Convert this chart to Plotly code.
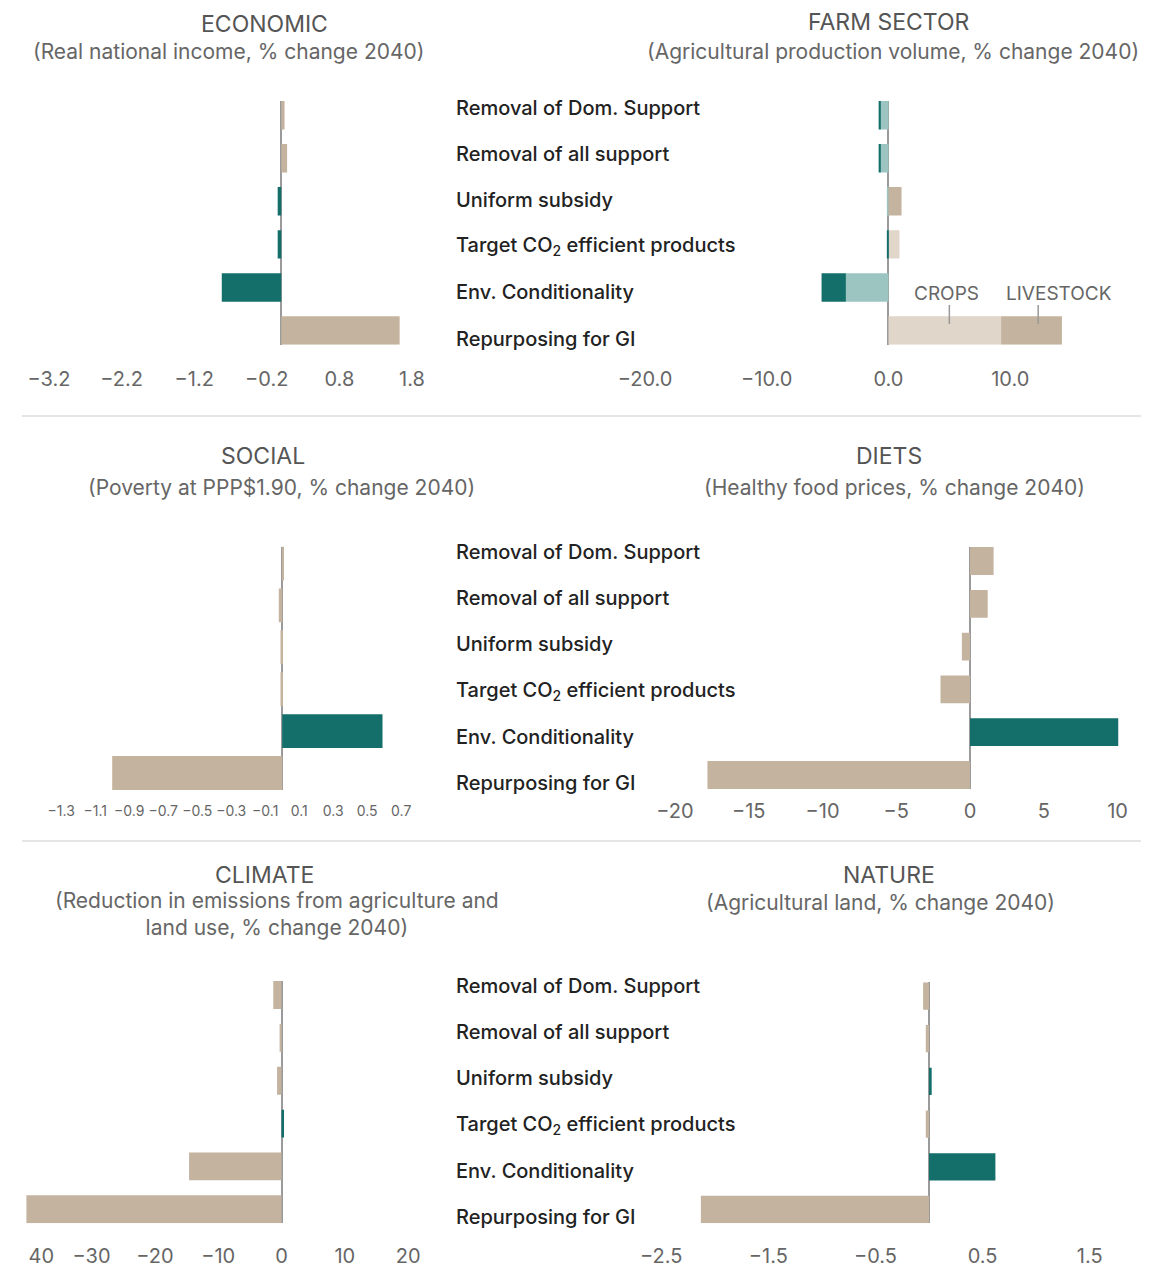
import plotly.graph_objects as go

W, H = 1176, 1271

# ---------------- data ----------------
policies = ["Removal of Dom. Support", "Removal of all support", "Uniform subsidy",
            "Target CO<sub>2</sub> efficient products", "Env. Conditionality", "Repurposing for GI"]

economic = [0.045, 0.08, -0.05, -0.05, -0.82, 1.63]
farm_crops = [-0.66, -0.66, -0.1, 0.9, -3.5, 9.25]
farm_livestock = [-0.15, -0.15, 1.07, -0.1, -2.0, 5.0]
social = [0.01, -0.02, -0.01, -0.01, 0.59, -1.0]
diets = [1.6, 1.2, -0.55, -2.0, 10.05, -17.8]
climate = [-1.3, -0.3, -0.7, 0.4, -14.6, -40.3]
nature = [-0.055, -0.03, 0.025, -0.03, 0.62, -2.13]

economic_ticks = [-3.2, -2.2, -1.2, -0.2, 0.8, 1.8]
farm_ticks = [-20, -10, 0, 10]
social_ticks = [-1.3, -1.1, -0.9, -0.7, -0.5, -0.3, -0.1, 0.1, 0.3, 0.5, 0.7]
diets_ticks = [-20, -15, -10, -5, 0, 5, 10]
climate_ticks = [-40, -30, -20, -10, 0, 10, 20]
climate_ticktext = ["\u2007\u200740", "\u221230", "\u221220", "\u221210", "0", "10", "20"]
nature_ticks = [-2.5, -1.5, -0.5, 0.5, 1.5]

titles = ["ECONOMIC", "FARM SECTOR", "SOCIAL", "DIETS", "CLIMATE", "NATURE"]
subtitles = ["(Real national income, % change 2040)",
             "(Agricultural production volume, % change 2040)",
             "(Poverty at PPP$1.90, % change 2040)",
             "(Healthy food prices, % change 2040)",
             "(Reduction in emissions from agriculture and<br>land use, % change 2040)",
             "(Agricultural land, % change 2040)"]

# ---------------- styles ----------------
TEAL = "#146f6b"
TAN = "#c4b39e"
LTEAL = "#9cc4c1"
LTAN = "#e0d6ca"
FONT = "Inter"

economic_colors = [TAN, TAN, TEAL, TEAL, TEAL, TAN]
social_colors = [TAN, TAN, TAN, TAN, TEAL, TAN]
diets_colors = [TAN, TAN, TAN, TAN, TEAL, TAN]
climate_colors = [TAN, TAN, TAN, TEAL, TAN, TAN]
nature_colors = [TAN, TAN, TEAL, TAN, TEAL, TAN]

# panel geometry: zero px, px per unit, x range, first bar centre px, pitch px, bar width, tick font, standoff
geo = {
    1: dict(zero=281.3, scale=72.6, rng=[-3.25, 1.85], c1=115.2, pitch=43.06, w=0.66, tf=20, so=20),
    2: dict(zero=888.5, scale=12.17, rng=[-21.5, 19.5], c1=115.2, pitch=43.06, w=0.66, tf=20, so=20),
    3: dict(zero=282.2, scale=170.0, rng=[-1.36, 0.76], c1=563.5, pitch=41.9, w=0.81, tf=14, so=11),
    4: dict(zero=970.0, scale=14.75, rng=[-21.0, 11.0], c1=561.0, pitch=42.8, w=0.65, tf=20, so=8),
    5: dict(zero=281.5, scale=6.33, rng=[-41.5, 21.5], c1=995.0, pitch=42.86, w=0.65, tf=20, so=19),
    6: dict(zero=929.0, scale=107.1, rng=[-2.65, 2.0], c1=996.0, pitch=42.7, w=0.64, tf=20, so=19),
}

ypos = list(range(len(policies)))

fig = go.Figure()


def ax_names(i):
    return ("x" if i == 1 else f"x{i}"), ("y" if i == 1 else f"y{i}")


def add_bar(i, vals, colors):
    xa, ya = ax_names(i)
    fig.add_trace(go.Bar(x=vals, y=ypos, orientation="h", xaxis=xa, yaxis=ya,
                         marker=dict(color=colors, line=dict(width=0)),
                         width=geo[i]["w"], showlegend=False, hoverinfo="x"))


add_bar(1, economic, economic_colors)
add_bar(2, farm_crops, [LTEAL if v < 0 else LTAN for v in farm_crops])
add_bar(2, farm_livestock, [TEAL if v < 0 else TAN for v in farm_livestock])
add_bar(3, social, social_colors)
add_bar(4, diets, diets_colors)
add_bar(5, climate, climate_colors)
add_bar(6, nature, nature_colors)

tickvals = {1: economic_ticks, 2: farm_ticks, 3: social_ticks, 4: diets_ticks,
            5: climate_ticks, 6: nature_ticks}

layout = dict(width=W, height=H, margin=dict(l=0, r=0, t=0, b=0, pad=0, autoexpand=False),
              autosize=False,
              paper_bgcolor="white", plot_bgcolor="white", barmode="relative",
              font=dict(family=FONT, color="#666"), showlegend=False)

for i, g in geo.items():
    n = len(policies)
    x0 = (g["zero"] + g["rng"][0] * g["scale"]) / W
    x1 = (g["zero"] + g["rng"][1] * g["scale"]) / W
    top = g["c1"] - g["w"] / 2 * g["pitch"]
    bot = g["c1"] + (n - 1) * g["pitch"] + g["w"] / 2 * g["pitch"]
    xk = "xaxis" if i == 1 else f"xaxis{i}"
    yk = "yaxis" if i == 1 else f"yaxis{i}"
    xa, ya = ax_names(i)
    xdict = dict(domain=[x0, x1], range=g["rng"], anchor=ya, showgrid=False,
                 zeroline=True, zerolinecolor="#9a9a9a", zerolinewidth=1.5,
                 showline=False, ticks="", tickmode="array", tickvals=tickvals[i],
                 tickfont=dict(family=FONT, size=g["tf"], color="#666"),
                 ticklabelstandoff=g["so"], fixedrange=True, automargin=False)
    if i == 2:
        xdict["tickformat"] = ".1f"
    if i == 5:
        xdict["ticktext"] = climate_ticktext
    layout[xk] = xdict
    layout[yk] = dict(domain=[1 - bot / H, 1 - top / H],
                      range=[n - 1 + g["w"] / 2, -g["w"] / 2], anchor=xa,
                      showgrid=False, zeroline=False, showline=False,
                      showticklabels=False, ticks="", fixedrange=True, automargin=False)

annotations = []

# category labels (one column per row, centred between panels)
row_label_top = [107.5, 552.0, 986.0]
label_pitch = 46.2
for r in row_label_top:
    for k, p in enumerate(policies):
        annotations.append(dict(xref="paper", yref="paper", x=454 / W,
                                y=1 - (r + k * label_pitch) / H, xanchor="left",
                                yanchor="middle", text=p, showarrow=False,
                                font=dict(family=FONT, size=20, color="#222", weight=500)))

# titles / subtitles
title_pos = [(264, 24, 228, 51), (889, 22, 893, 51),
             (263, 456, 281, 487), (889, 456, 894, 487),
             (264, 875, 277, 914), (889, 875, 880, 902)]
for t, s, (tx, ty, sx, sy) in zip(titles, subtitles, title_pos):
    annotations.append(dict(xref="paper", yref="paper", x=tx / W, y=1 - ty / H,
                            xanchor="center", yanchor="middle", text=t, showarrow=False,
                            font=dict(family=FONT, size=23, color="#555")))
    annotations.append(dict(xref="paper", yref="paper", x=sx / W, y=1 - sy / H,
                            xanchor="center", yanchor="middle", text=s, showarrow=False,
                            font=dict(family=FONT, size=21, color="#666")))

# CROPS / LIVESTOCK labels for the farm panel
annotations.append(dict(xref="x2", yref="y2", x=4.78, y=4.15, text="CROPS", showarrow=False,
                        xanchor="center", yanchor="middle",
                        font=dict(family=FONT, size=19, color="#666")))
annotations.append(dict(xref="x2", yref="y2", x=14.0, y=4.15, text="LIVESTOCK", showarrow=False,
                        xanchor="center", yanchor="middle",
                        font=dict(family=FONT, size=19, color="#666")))

shapes = []
for xv in (5.0, 12.3):
    shapes.append(dict(type="line", xref="x2", yref="y2", x0=xv, x1=xv, y0=4.41, y1=4.85,
                       line=dict(color="#999", width=1.5)))
for yy in (416, 841):
    shapes.append(dict(type="line", xref="paper", yref="paper", x0=22 / W, x1=1141 / W,
                       y0=1 - yy / H, y1=1 - yy / H, line=dict(color="#dddddd", width=1.5)))

layout["annotations"] = annotations
layout["shapes"] = shapes
fig.update_layout(**layout)

fig.write_html("out.html", config={"displayModeBar": False},
               post_script="document.body.style.margin='0';document.body.style.overflow='hidden';")
